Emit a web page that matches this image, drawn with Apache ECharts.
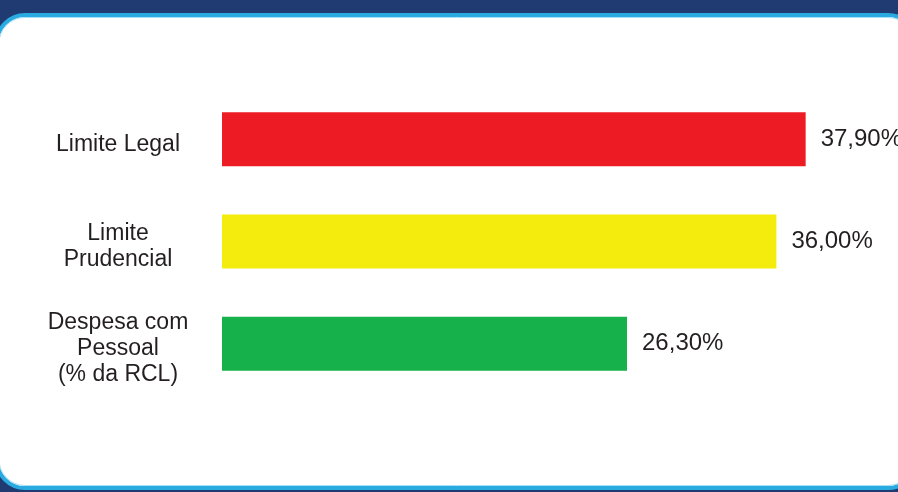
<!DOCTYPE html>
<html>
<head>
<meta charset="utf-8">
<script src="https://cdn.jsdelivr.net/npm/echarts@6/dist/echarts.min.js"></script>
<style>
  html, body { margin: 0; padding: 0; background: #203a72; }
  #chart { width: 898px; height: 492px; }
</style>
</head>
<body>
<div id="chart"></div>
<script>
// categories from top to bottom
var categories = ["Limite Legal", "Limite\nPrudencial", "Despesa com\nPessoal\n(% da RCL)"];
var values = [37.9, 36.0, 26.3];
var barColors = ["#ed1c24", "#f3ec0c", "#17b14b"];

var chartDom = document.getElementById("chart");
var myChart = echarts.init(chartDom);

var labelFont = "'Liberation Sans', Arial, sans-serif";

var option = {
    backgroundColor: "#203a72",
    animation: false,
    graphic: [
        {
            type: "rect",
            z: -10,
            shape: { x: -3, y: 15, width: 919, height: 473, r: 28 },
            style: { fill: "#ffffff", stroke: "#29abe2", lineWidth: 4 }
        },
        {
            type: "rect",
            z: -9,
            shape: { x: -1, y: 17.5, width: 915, height: 468, r: 26 },
            style: { fill: "none", stroke: "#a8e0f7", lineWidth: 1 }
        }
    ],
    grid: {
        left: 222,
        right: 60,
        top: 88,
        height: 307
    },
    xAxis: {
        type: "value",
        min: 0,
        max: 40,
        show: false
    },
    yAxis: {
        type: "category",
        data: categories,
        inverse: true,
        axisLine: { show: false },
        axisTick: { show: false },
        splitLine: { show: false },
        axisLabel: {
            margin: 104,
            align: "center",
            color: "#231f20",
            fontFamily: labelFont,
            fontSize: 23,
            lineHeight: 26,
            // small empty line on top pushes the block a few px down
            formatter: function (v) {
                return "{g|}\n" + v.split("\n").map(function (l) {
                    return "{t|" + l + "}";
                }).join("\n");
            },
            rich: {
                g: { lineHeight: 10, fontSize: 10 },
                t: {
                    color: "#231f20",
                    fontFamily: labelFont,
                    fontSize: 23,
                    lineHeight: 26,
                    align: "center"
                }
            }
        }
    },
    series: [
        {
            type: "bar",
            barWidth: 54,
            data: values.map(function (v, i) {
                return { value: v, itemStyle: { color: barColors[i] } };
            }),
            label: {
                show: true,
                position: "right",
                distance: 15,
                color: "#231f20",
                fontFamily: labelFont,
                fontSize: 24,
                formatter: function (p) {
                    return p.value.toFixed(2).replace(".", ",") + "%";
                }
            }
        }
    ]
};

option && myChart.setOption(option);
</script>
</body>
</html>
